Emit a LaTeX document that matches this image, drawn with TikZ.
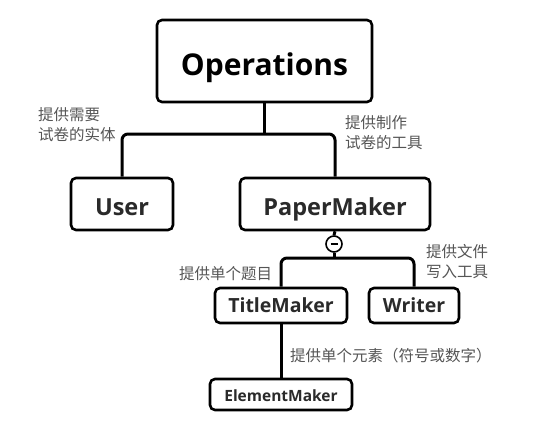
\documentclass[tikz,border=0pt]{standalone}
\usepackage{fontspec}
\setmainfont{Open Sans}
\newfontfamily\cjk{Noto Sans CJK SC}
\definecolor{txt}{HTML}{2A2A2A}
\definecolor{lbl}{HTML}{555555}
\tikzset{
  box/.style={draw=black, line width=2.6pt, rounded corners=5pt, fill=white, inner sep=0pt, text=txt, font=\bfseries, text depth=0pt},
  conn/.style={draw=black, line width=3pt, rounded corners=6pt},
  lab/.style={text=lbl, font=\cjk\fontsize{15.5}{20}\selectfont, align=left, anchor=west, inner sep=0pt}
}
\begin{document}
\begin{tikzpicture}[x=1pt,y=-1pt]
\useasboundingbox (0,0) rectangle (543,428);
\node[box, minimum width=215pt, minimum height=82pt, text height=28pt, text=black, font=\bfseries\fontsize{30}{34}\selectfont] (ops) at (264.5,61) {Operations};
\node[box, minimum width=102pt, minimum height=52pt, text height=23.4pt, font=\bfseries\fontsize{23.5}{26}\selectfont] (user) at (122,204) {User};
\node[box, minimum width=190pt, minimum height=52pt, text height=23.4pt, font=\bfseries\fontsize{23.5}{26}\selectfont] (pm) at (335,204) {PaperMaker};
\node[box, minimum width=132pt, minimum height=35pt, text height=13.6pt, font=\bfseries\fontsize{19.5}{22}\selectfont] (tm) at (281,305.5) {TitleMaker};
\node[box, minimum width=90pt, minimum height=35pt, text height=13.6pt, font=\bfseries\fontsize{19.5}{22}\selectfont] (wr) at (414,305.5) {Writer};
\node[box, minimum width=142pt, minimum height=31pt, text height=14.4pt, font=\bfseries\fontsize{15.5}{18}\selectfont] (em) at (281,394.5) {ElementMaker};
\node[draw=black, line width=1.6pt, circle, minimum size=16pt, inner sep=0pt, fill=white] (c) at (334,244) {};
\draw[line width=2pt] ([xshift=-3.5pt]c.center) -- ([xshift=3.5pt]c.center);
\coordinate (j1) at (264.5,134);
\coordinate (j2) at (334,258);
\draw[conn] (ops.south) -- (j1);
\draw[conn] (user.north) |- (j1) -| (pm.north);
\draw[conn] (pm.south) -- (c.north);
\draw[conn] (c.south) -- (j2);
\draw[conn] (tm.north) |- (j2) -| (wr.north);
\draw[conn] (tm.south) -- (em.north);
\node[lab] (l1) at (38,125) {提供需要\\试卷的实体};
\node[lab] (l2) at (345,133) {提供制作\\试卷的工具};
\node[lab] (l3) at (179,274) {提供单个题目};
\node[lab] (l4) at (426,262) {提供文件\\写入工具};
\node[lab] (l5) at (290,356) {提供单个元素（符号或数字）};
\end{tikzpicture}
\end{document}
